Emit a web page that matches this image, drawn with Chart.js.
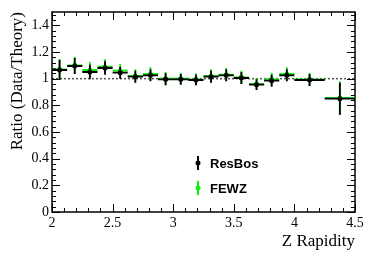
<!DOCTYPE html>
<html>
<head>
<meta charset="utf-8">
<script src="https://cdn.jsdelivr.net/npm/chart.js@4"></script>
<style>
  html, body { margin: 0; padding: 0; background: #fff; }
  #wrap { width: 374px; height: 253px; }
</style>
</head>
<body>
<div id="wrap"><canvas id="ratioChart"></canvas></div>
<script>
// Z rapidity ratio plot — data / theory for ResBos and FEWZ

const binLow  = [2.0, 2.125, 2.25, 2.375, 2.5, 2.625, 2.75, 2.875, 3.0, 3.125, 3.25, 3.375, 3.5, 3.625, 3.75, 3.875, 4.0, 4.25];
const binHigh = [2.125, 2.25, 2.375, 2.5, 2.625, 2.75, 2.875, 3.0, 3.125, 3.25, 3.375, 3.5, 3.625, 3.75, 3.875, 4.0, 4.25, 4.5];

const resbos    = [1.065, 1.095, 1.05, 1.08, 1.045, 1.015, 1.025, 0.995, 0.995, 0.99, 1.015, 1.025, 1.005, 0.955, 0.985, 1.025, 0.99, 0.85];
const resbosErr = [0.075, 0.06, 0.055, 0.05, 0.045, 0.045, 0.045, 0.045, 0.04, 0.04, 0.045, 0.045, 0.045, 0.04, 0.045, 0.045, 0.045, 0.12];
const fewz      = [1.07, 1.10, 1.065, 1.09, 1.06, 1.02, 1.035, 1.0, 1.0, 0.995, 1.02, 1.03, 1.01, 0.96, 0.995, 1.035, 0.995, 0.855];
const fewzErr   = [0.08, 0.065, 0.06, 0.055, 0.05, 0.05, 0.05, 0.05, 0.045, 0.045, 0.05, 0.05, 0.05, 0.045, 0.05, 0.05, 0.05, 0.125];

const xTicks = [2, 2.5, 3, 3.5, 4, 4.5];
const yTicks = [0, 0.2, 0.4, 0.6, 0.8, 1, 1.2, 1.4];

const points = vals => vals.map((v, i) => ({ x: (binLow[i] + binHigh[i]) / 2, y: v }));

// error bars (bin width + vertical error), drawn just before each dataset's markers
const errorBars = {
  id: 'errorBars',
  beforeDatasetDraw(chart, args) {
    const ds = chart.data.datasets[args.index];
    const { ctx, scales: { x, y } } = chart;
    ctx.save();
    ctx.strokeStyle = ds.borderColor;
    ctx.lineWidth = 1.8;
    ds.values.forEach((v, i) => {
      const xc = x.getPixelForValue((binLow[i] + binHigh[i]) / 2);
      const yc = y.getPixelForValue(v);
      ctx.beginPath();
      ctx.moveTo(x.getPixelForValue(binLow[i]), yc);
      ctx.lineTo(x.getPixelForValue(binHigh[i]), yc);
      ctx.moveTo(xc, y.getPixelForValue(v - ds.errors[i]));
      ctx.lineTo(xc, y.getPixelForValue(v + ds.errors[i]));
      ctx.stroke();
    });
    ctx.restore();
  },
};

// ROOT-like frame with inward ticks + dotted unity line
const frame = {
  id: 'frame',
  beforeDatasetsDraw(chart) {
    const { ctx, chartArea: a, scales: { x, y } } = chart;
    ctx.save();
    // unity line
    ctx.strokeStyle = '#555';
    ctx.lineWidth = 1.5;
    ctx.setLineDash([2, 2]);
    ctx.beginPath();
    ctx.moveTo(a.left, y.getPixelForValue(1));
    ctx.lineTo(a.right, y.getPixelForValue(1));
    ctx.stroke();
    ctx.setLineDash([]);

    ctx.strokeStyle = '#000';
    ctx.lineWidth = 1.5;
    ctx.strokeRect(a.left, a.top, a.right - a.left, a.bottom - a.top);
    ctx.lineWidth = 1;
    ctx.beginPath();
    for (let k = 0; k <= 25; k++) {
      const px = Math.round(x.getPixelForValue(2 + k * 0.1)) + 0.5;
      const len = k % 5 === 0 ? 8 : 4;
      ctx.moveTo(px, a.bottom); ctx.lineTo(px, a.bottom - len);
      ctx.moveTo(px, a.top); ctx.lineTo(px, a.top + len);
    }
    for (let k = 0; k <= 37; k++) {
      const py = Math.round(y.getPixelForValue(k * 0.04)) + 0.5;
      const len = k % 5 === 0 ? 8 : 4;
      ctx.moveTo(a.left, py); ctx.lineTo(a.left + len, py);
      ctx.moveTo(a.right, py); ctx.lineTo(a.right - len, py);
    }
    ctx.stroke();
    ctx.restore();
  },
  afterDraw(chart) {
    const { ctx, chartArea: a } = chart;
    ctx.save();
    ctx.font = 'bold 13px "Liberation Sans", Arial, sans-serif';
    ctx.textBaseline = 'middle';
    chart.data.datasets.forEach((ds, i) => {
      const mx = a.left + 146;
      const my = a.top + 151 + i * 25;
      ctx.strokeStyle = ds.borderColor;
      ctx.fillStyle = ds.borderColor;
      ctx.lineWidth = 2;
      ctx.beginPath();
      ctx.moveTo(mx, my - 7); ctx.lineTo(mx, my + 7);
      ctx.stroke();
      ctx.beginPath();
      ctx.arc(mx, my, 2.5, 0, Math.PI * 2);
      ctx.fill();
      ctx.fillStyle = '#000';
      ctx.fillText(ds.label, mx + 12, my + 1);
    });
    ctx.restore();
  },
};

const serif = '"Liberation Serif", "Times New Roman", serif';

new Chart(document.getElementById('ratioChart'), {
  type: 'scatter',
  data: {
    datasets: [
      {
        label: 'ResBos',
        data: points(resbos),
        values: resbos,
        errors: resbosErr,
        borderColor: '#000',
        backgroundColor: '#000',
        pointRadius: 2.5,
        pointBorderWidth: 0,
      },
      {
        label: 'FEWZ',
        data: points(fewz),
        values: fewz,
        errors: fewzErr,
        borderColor: '#11ee11',
        backgroundColor: '#11ee11',
        pointRadius: 2.5,
        pointBorderWidth: 0,
      },
    ],
  },
  plugins: [errorBars, frame],
  options: {
    responsive: true,
    maintainAspectRatio: false,
    animation: false,
    layout: { padding: { top: 12, right: 19, left: 0, bottom: 0 } },
    plugins: { legend: { display: false }, tooltip: { enabled: false } },
    scales: {
      x: {
        type: 'linear', min: 2, max: 4.5,
        afterBuildTicks: s => { s.ticks = xTicks.map(v => ({ value: v })); },
        afterFit: s => { s.height = 41; },
        grid: { display: false, drawTicks: false, tickLength: 0 },
        border: { display: false },
        ticks: { color: '#000', padding: 3, maxRotation: 0, font: { family: serif, size: 14 }, callback: v => String(v) },
        title: { display: true, text: 'Z Rapidity', align: 'end', color: '#000', font: { family: serif, size: 17 }, padding: { top: 0, bottom: 1 } },
      },
      y: {
        min: 0, max: 1.5,
        afterBuildTicks: s => { s.ticks = yTicks.map(v => ({ value: v })); },
        afterFit: s => { s.width = 52; },
        grid: { display: false, drawTicks: false, tickLength: 0 },
        border: { display: false },
        ticks: { color: '#000', padding: 3, font: { family: serif, size: 14 }, callback: v => String(+v.toFixed(1)) },
        title: { display: true, text: 'Ratio (Data/Theory)', align: 'end', color: '#000', font: { family: serif, size: 17 }, padding: { top: 7, bottom: 0 } },
      },
    },
  },
});
</script>
</body>
</html>
